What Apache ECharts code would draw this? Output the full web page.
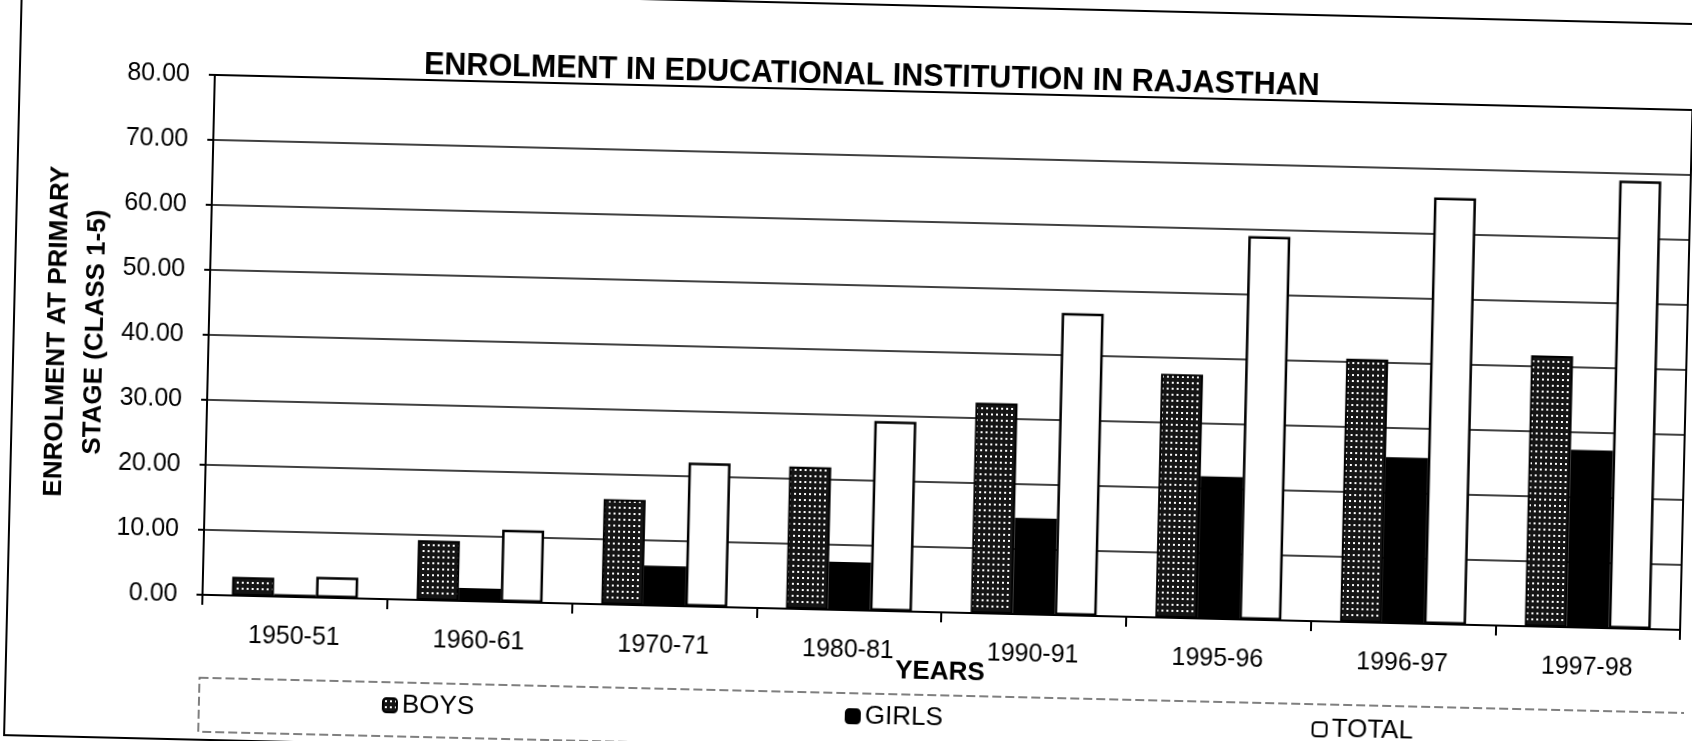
<!DOCTYPE html>
<html>
<head>
<meta charset="utf-8">
<title>Enrolment in Educational Institution in Rajasthan</title>
<script src="https://cdn.jsdelivr.net/npm/echarts@6/dist/echarts.min.js"></script>
<style>
html,body{margin:0;padding:0;background:#fff;overflow:hidden;width:1692px;height:741px}
/* the scanned page is tilted a little clockwise; a bit taller than the window so the frame shows at the bottom */
#chart{width:1692px;height:780px;transform:rotate(1.36deg);transform-origin:846px 370px}
</style>
</head>
<body>
<div id="chart"></div>
<script>
// data
var years = ['1950-51','1960-61','1970-71','1980-81','1990-91','1995-96','1996-97','1997-98'];
var boys  = [2.9, 9.2, 16.2, 21.9, 32.4, 37.5, 40.5, 41.7];
var girls = [0.4, 2.0, 6.1, 7.4, 14.8, 21.9, 25.5, 27.3];
var total = [3.2, 11.1, 22.1, 29.2, 46.5, 59.0, 65.6, 68.9];

var font = '"Liberation Sans", Arial, sans-serif';

// dotted fill for the boys bars
function dotPattern(){
	var c = document.createElement('canvas');
	c.width = 5; c.height = 6;
	var g = c.getContext('2d');
	g.fillStyle = '#151515';
	g.fillRect(0,0,5,6);
	g.fillStyle = '#fff';
	g.fillRect(2,2,2,2);
	return c;
}

var myChart = echarts.init(document.getElementById('chart'));

var legendText = {fontFamily:font, fontSize:26, color:'#000'};

var option = {
	backgroundColor : '#fff',
	animation : false,
	title : {
		text : 'ENROLMENT IN EDUCATIONAL INSTITUTION IN RAJASTHAN',
		left : 417,
		top : 60,
		padding : 0,
		textStyle : {fontFamily:font, fontSize:30.5, fontWeight:'bold', color:'#000'}
	},
	legend : [
		{data:['BOYS'], left:390, top:703, padding:0, itemWidth:14, itemHeight:14, itemGap:6, textStyle:legendText},
		{data:['GIRLS'], left:853, top:703, padding:0, itemWidth:14, itemHeight:14, itemGap:6, textStyle:legendText},
		{data:['TOTAL'], left:1320, top:705, padding:0, itemWidth:14, itemHeight:14, itemGap:6, textStyle:legendText}
	],
	grid : {
		left : 208,
		right : 6,
		top : 90,
		bottom : 170,
		show : true,
		borderColor : '#000',
		borderWidth : 2
	},
	xAxis : {
		type : 'category',
		data : years,
		name : 'YEARS',
		nameLocation : 'middle',
		nameGap : 47,
		nameMoveOverlap : false,
		nameTextStyle : {fontFamily:font, fontSize:26, fontWeight:'bold', color:'#000'},
		axisLine : {lineStyle:{color:'#000', width:2}},
		axisTick : {show:true, length:10, lineStyle:{color:'#000', width:2}},
		axisLabel : {fontFamily:font, fontSize:25, color:'#000', margin:28}
	},
	yAxis : {
		type : 'value',
		min : 0,
		max : 80,
		interval : 10,
		name : 'ENROLMENT AT PRIMARY\nSTAGE (CLASS 1-5)',
		nameLocation : 'middle',
		nameGap : 94,
		nameMoveOverlap : false,
		nameTextStyle : {fontFamily:font, fontSize:26, fontWeight:'bold', color:'#000', lineHeight:38},
		axisLine : {show:true, lineStyle:{color:'#000', width:2}},
		axisTick : {show:true, length:6, lineStyle:{color:'#000', width:2}},
		axisLabel : {
			fontFamily:font, fontSize:25, color:'#000', margin:25,
			formatter : function(v){ return v.toFixed(2); }
		},
		splitLine : {lineStyle:{color:'#000', width:1.5}}
	},
	graphic : [
		// outer frame of the chart
		{type:'rect', shape:{x:13, y:4, width:1720, height:751}, style:{fill:'none', stroke:'#000', lineWidth:2}, silent:true},
		// legend box
		{type:'rect', shape:{x:207, y:693, width:1520, height:54}, style:{fill:'none', stroke:'#555', lineWidth:1.5, lineDash:[9,4]}, silent:true}
	],
	series : [
		{
			name : 'BOYS',
			type : 'bar',
			data : boys,
			barWidth : 42,
			barGap : '0%',
			itemStyle : {color:{image:dotPattern(), repeat:'repeat'}, borderColor:'#000', borderWidth:2}
		},
		{
			name : 'GIRLS',
			type : 'bar',
			data : girls,
			barWidth : 42,
			barGap : '0%',
			itemStyle : {color:'#000', borderColor:'#000', borderWidth:2}
		},
		{
			name : 'TOTAL',
			type : 'bar',
			data : total,
			barWidth : 42,
			barGap : '0%',
			itemStyle : {color:'#fff', borderColor:'#000', borderWidth:2.5}
		}
	]
};

myChart.setOption(option);
</script>
</body>
</html>
